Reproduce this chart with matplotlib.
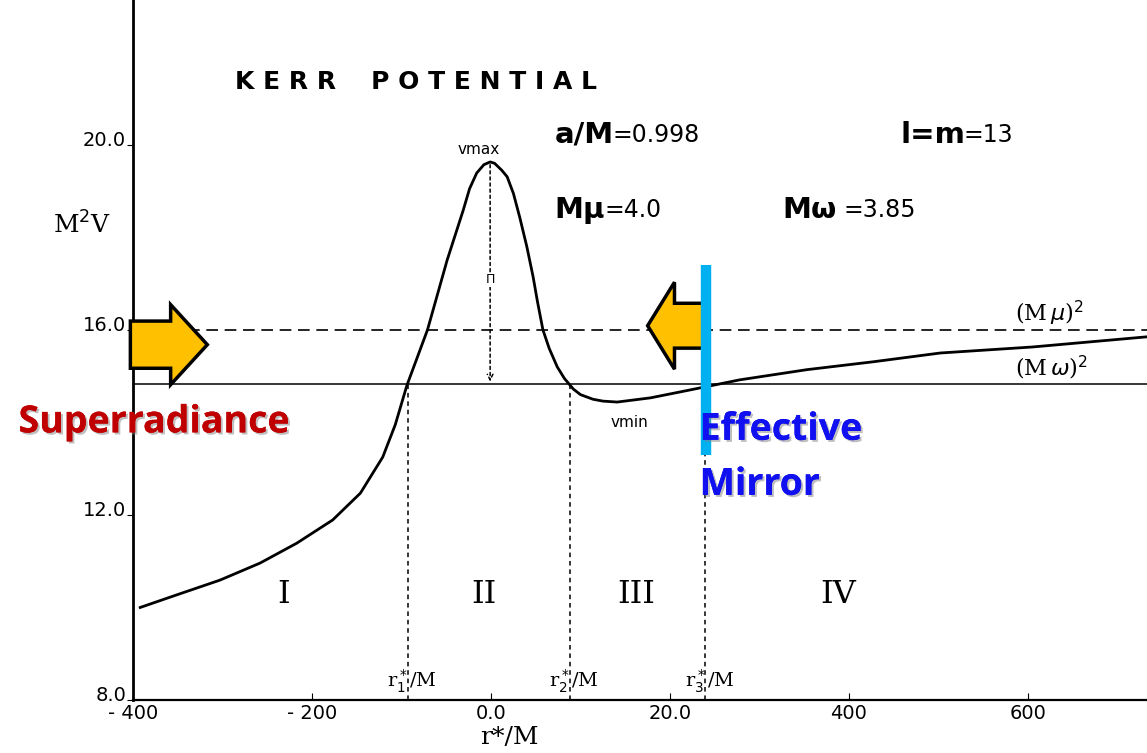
import matplotlib.pyplot as plt
import matplotlib.patches as mpatches
import matplotlib.patheffects as pe
from matplotlib.transforms import ScaledTranslation

# Kerr potential, values
r_star = [-392, -350, -303, -258, -217, -177, -146, -121, -107, -94, -71, -49, -31,
          -24, -16, -8, -1, 4, 12, 18, 25, 32, 40, 47, 52, 58, 65, 74, 82, 92, 100,
          114, 125, 141, 178, 222, 278, 353, 427, 502, 605, 733]
M2V = [10.0, 10.28, 10.59, 10.96, 11.39, 11.89, 12.47, 13.25, 13.95, 14.8, 16.0,
       17.51, 18.59, 19.05, 19.39, 19.57, 19.63, 19.6, 19.45, 19.31, 18.95, 18.44,
       17.8, 17.15, 16.6, 16.0, 15.6, 15.2, 14.95, 14.72, 14.6, 14.5, 14.46, 14.44,
       14.53, 14.70, 14.92, 15.14, 15.31, 15.5, 15.63, 15.85]

M_mu = 4.0
M_omega = 3.85
r_turn = [-93, 88, 239]          # r1*, r2*, r3*
turn_labels = ['r$_1^*$/M', 'r$_2^*$/M', 'r$_3^*$/M']
regions = ['I', 'II', 'III', 'IV']
region_x = [-232, -8, 162, 388]

xticks = [-400, -200, 0, 200, 400, 600]
xtick_labels = ['- 400', '- 200', '0.0', '20.0', '400', '600']
yticks = [8, 12, 16, 20]
ytick_labels = ['8.0', '12.0', '16.0', '20.0']

fig = plt.figure(figsize=(11.47, 7.53), dpi=100)
ax = fig.add_axes([0.116, 0.0704, 0.884, 0.9296])
ax.set_xlim(-400, 733)
ax.set_ylim(8, 23.13)

for s in ['top', 'right']:
    ax.spines[s].set_visible(False)
ax.spines['left'].set_linewidth(2)
ax.spines['bottom'].set_linewidth(1.6)

ax.set_xticks(xticks)
ax.set_xticklabels(xtick_labels, fontsize=14)
ax.set_yticks(yticks)
ax.set_yticklabels(ytick_labels, fontsize=14)
ax.tick_params(axis='x', direction='in', length=5, pad=3)
ax.tick_params(axis='y', direction='out', length=4, pad=1)
# labels sit a little above their ticks, as in the scan
lift = ScaledTranslation(0, 6 / 100, fig.dpi_scale_trans)
for lbl in ax.get_yticklabels():
    lbl.set_transform(lbl.get_transform() + lift)

# curve + reference levels
ax.plot(r_star, M2V, color='black', lw=2)
ax.axhline(M_mu ** 2, color='black', lw=1.2, ls=(0, (7, 4)))
ax.axhline(M_omega ** 2, color='black', lw=1.1)

for r in r_turn:
    ax.plot([r, r], [8, M_omega ** 2], color='black', lw=1.1, ls=(0, (3, 2.5)))
for r, lab in zip(r_turn, turn_labels):
    ax.text(r + 5, 8.1, lab, fontsize=14, family='DejaVu Serif', ha='center', va='bottom')

# vmax -> omega level arrow
ax.annotate('', xy=(-1, M_omega ** 2), xytext=(-1, max(M2V)),
            arrowprops=dict(arrowstyle='->', ls=(0, (2, 2)), lw=1.1, color='black'))
ax.text(-1, 17.08, 'Π', fontsize=9, ha='center', va='center',
        bbox=dict(fc='white', ec='none', pad=0.5))
ax.text(-14, 19.9, 'vmax', fontsize=11, ha='center', va='center')
ax.text(155, 13.99, 'vmin', fontsize=11, ha='center', va='center')

for lab, x in zip(regions, region_x):
    ax.text(x, 10.27, lab, fontsize=23, family='DejaVu Serif', ha='center', va='center')

ax.text(585, 16.05, '(M$\\,\\mu$)$^2$', fontsize=16, family='DejaVu Serif', va='bottom')
ax.text(585, 14.88, '(M$\\,\\omega$)$^2$', fontsize=16, family='DejaVu Serif', va='bottom')

# title and parameters
ax.text(-286, 21.36, 'K E R R    P O T E N T I A L', fontsize=18, fontweight='bold',
        va='center')
ax.text(71, 20.22, 'a/M', fontsize=21, fontweight='bold', va='center')
ax.text(136, 20.22, '=0.998', fontsize=17, va='center')
ax.text(457, 20.22, 'l=m', fontsize=21, fontweight='bold', va='center')
ax.text(528, 20.22, '=13', fontsize=17, va='center')
ax.text(71, 18.6, 'M\u03bc', fontsize=21, fontweight='bold', va='center')
ax.text(127, 18.6, '=4.0', fontsize=17, va='center')
ax.text(326, 18.6, 'M\u03c9', fontsize=21, fontweight='bold', va='center')
ax.text(394, 18.6, '=3.85', fontsize=17, va='center')

ax.text(20, 7.2, 'r*/M', fontsize=18, family='DejaVu Serif', ha='center', va='center',
        clip_on=False)
ax.text(-490, 18.27, 'M$^2$V', fontsize=18, family='DejaVu Serif', va='center')

# overlay: arrows, mirror, labels
gold = '#FFC000'
ax.add_patch(mpatches.FancyArrow(-403, 15.68, 86, 0, width=1.02, head_width=1.73,
                                 head_length=41, length_includes_head=True,
                                 fc=gold, ec='black', lw=2.5, clip_on=False, zorder=5))
ax.add_patch(mpatches.FancyArrow(238, 16.09, -63, 0, width=0.97, head_width=1.88,
                                 head_length=30, length_includes_head=True,
                                 fc=gold, ec='black', lw=2.5, zorder=5))
ax.plot([240, 240], [13.3, 17.4], color='#00B0F0', lw=7.5, solid_capstyle='butt', zorder=6)

shadow = [pe.withSimplePatchShadow(offset=(1.5, -1.5), shadow_rgbFace='gray', alpha=0.5),
          pe.Normal()]
ax.text(-528, 14.0, 'Superradiance', fontsize=27, fontweight='bold', color='#C00000',
        family='Open Sans', va='center', path_effects=shadow, zorder=7)
ax.text(233, 13.84, 'Effective', fontsize=27, fontweight='bold', color='#1010F0',
        family='Open Sans', va='center', path_effects=shadow, zorder=7)
ax.text(233, 12.65, 'Mirror', fontsize=27, fontweight='bold', color='#1010F0',
        family='Open Sans', va='center', path_effects=shadow, zorder=7)

fig.savefig('out.png', dpi=100)
